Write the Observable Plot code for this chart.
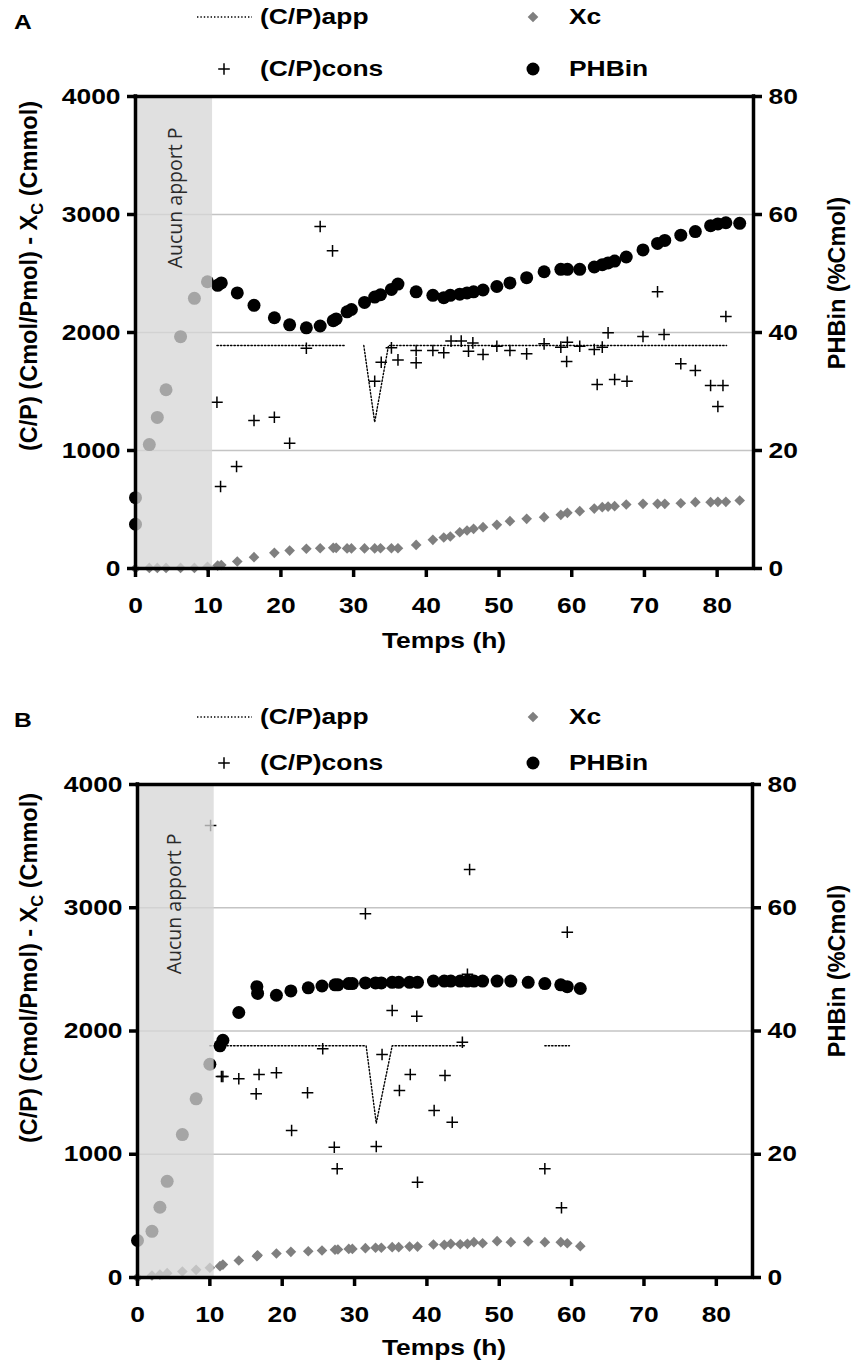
<!DOCTYPE html>
<html><head><meta charset="utf-8">
<script src="https://cdn.jsdelivr.net/npm/d3@7"></script>
<script src="https://cdn.jsdelivr.net/npm/@observablehq/plot@0.6"></script>
<style>
body{margin:0;background:#fff;}
#root{position:relative;width:863px;height:1365px;overflow:hidden;font-family:"Liberation Sans",Arial,sans-serif;font-weight:bold;color:#000;}
.abs{position:absolute;white-space:nowrap;line-height:1;}
svg.plot{position:absolute;left:0;}
</style></head><body><div id="root"></div>
<script>
// ---- shared scales / labels ----
const xTicks = [0,10,20,30,40,50,60,70,80];
const yTicks = [0,1000,2000,3000,4000];
const gridValues = [1000,2000,3000];
const xDomain = [0,85];
const yDomain = [0,4000];
const phbDomain = [0,80];
const shadeRange = [0,10.6];
const shadeLabel = "Aucun apport P";
const legendLabels = ["(C/P)app","Xc","(C/P)cons","PHBin"];
const xTitle = "Temps (h)";
const yTitle = "(C/P) (Cmol/Pmol) - X<sub style='font-size:0.7em'>C</sub> (Cmmol)";
const y2Title = "PHBin (%Cmol)";

// ---- Panel A ----
const appTimeA  = [11.2, 28.9, 30.2, 31.4, 32.9, 34.8, 81.3];
const appValA   = [1890, 1890, NaN, 1890, 1240, 1890, 1890];
const consTimeA = [11.2,11.7,13.9,16.3,19.1,21.2,23.5,25.4,27.1,32.9,33.8,35.2,36.1,38.6,38.6,40.9,42.4,43.4,44.8,45.8,46.4,47.8,49.7,51.5,53.8,56.2,58.5,59.3,59.4,61.1,63.1,63.5,64.2,65.0,65.9,67.6,69.8,71.8,72.7,75.0,77.0,79.1,80.1,80.8,81.2];
const consValA  = [1409,695,864,1254,1282,1062,1867,2898,2692,1587,1748,1870,1768,1743,1847,1847,1828,1927,1927,1841,1912,1814,1884,1847,1819,1904,1876,1754,1918,1884,1856,1559,1876,1997,1602,1587,1966,2345,1983,1735,1678,1551,1373,1551,2136];
const xcTimeA   = [0,1.9,3.0,4.2,6.2,8.1,9.9,11.3,11.8,14.0,16.3,19.1,21.2,23.5,25.4,27.2,27.6,29.1,29.7,31.5,32.9,33.7,35.2,36.1,38.6,40.9,42.4,43.3,44.6,45.6,46.5,47.8,49.7,51.5,53.8,56.2,58.5,59.4,61.1,63.1,64.2,65.0,65.9,67.5,69.8,71.8,72.8,75.0,77.0,79.1,80.1,81.2,83.1];
const xcValA    = [0,5,5,5,5,5,15,25,30,59,96,133,152,167,172,175,175,170,170,170,170,172,172,172,200,243,263,271,307,322,336,350,370,401,421,435,455,472,486,508,520,525,528,542,548,548,548,553,562,562,565,565,576];
const phbTimeA  = [0,0,1.9,3.0,4.2,6.2,8.1,9.9,11.3,11.8,14.0,16.3,19.1,21.2,23.5,25.4,27.2,27.6,29.1,29.7,31.5,32.9,33.7,35.2,36.1,38.6,40.9,42.4,43.3,44.6,45.6,46.5,47.8,49.7,51.5,53.8,56.2,58.5,59.4,61.1,63.1,64.2,65.0,65.9,67.5,69.8,71.8,72.8,75.0,77.0,79.1,80.1,81.2,83.1];
const phbValA   = [12.0,7.5,21.0,25.6,30.3,39.3,45.8,48.6,48.0,48.4,46.7,44.6,42.5,41.3,40.8,41.1,42.0,42.3,43.5,43.9,45.1,46.0,46.4,47.3,48.2,46.9,46.3,45.9,46.3,46.5,46.7,46.9,47.2,47.8,48.4,49.3,50.3,50.7,50.7,50.7,51.1,51.5,51.8,52.1,52.8,54.0,55.1,55.6,56.5,57.1,58.1,58.4,58.6,58.5];

// ---- Panel B ----
const appTimeB  = [10.0, 31.6, 33.0, 35.2, 45.3, 50.0, 56.3, 59.7];
const appValB   = [1880, 1880, 1252, 1880, 1880, NaN, 1880, 1880];
const consTimeB = [10.1,11.6,11.8,14.0,16.4,16.8,19.2,21.3,23.5,25.6,27.2,27.6,31.5,33.0,33.8,35.2,36.2,37.7,38.6,38.7,41.0,42.5,43.5,44.9,45.6,45.9,56.3,58.6,59.4];
const consValB  = [3667,1631,1631,1612,1490,1647,1661,1193,1499,1856,1057,882,2951,1063,1809,2166,1517,1647,2120,773,1355,1639,1260,1909,2460,3310,882,566,2802];
const xcTimeB   = [0,2.0,3.1,4.1,6.2,8.1,10.0,11.4,11.8,14.0,16.5,16.6,19.2,21.2,23.6,25.5,27.3,27.7,29.2,29.7,31.5,32.9,33.7,35.2,36.1,37.6,38.7,40.9,42.4,43.3,44.6,45.6,46.5,47.7,49.7,51.6,54.0,56.3,58.5,59.4,61.2];
const xcValB    = [0,16,24,35,49,62,79,92,105,138,173,180,195,208,213,219,225,227,232,232,238,241,241,246,246,251,251,268,265,273,270,273,287,278,295,287,292,287,287,278,254];
const phbTimeB  = xcTimeB;
const phbValB   = [6.0,7.5,11.4,15.6,23.2,29.0,34.6,37.6,38.5,43.0,47.2,46.1,45.8,46.5,47.0,47.3,47.5,47.5,47.7,47.7,47.8,47.8,47.8,47.9,47.9,47.9,47.9,48.1,48.1,48.1,48.1,48.1,48.1,48.1,48.1,48.1,47.9,47.7,47.5,47.2,46.9];

const RATIO = yDomain[1] / phbDomain[1];
const FONT = "'Liberation Sans', Arial, sans-serif";
const SX = 1.2; // horizontal stretch of the original figure's text

const plusSymbol = {
  draw(context, size) {
    const r = Math.sqrt(size / Math.PI);
    context.moveTo(-r, 0); context.lineTo(r, 0);
    context.moveTo(0, -r); context.lineTo(0, r);
  }
};

const zip = (ts, vs) => ts.map((t, i) => ({t, v: vs[i]}));

const panels = [
  {letter:"A", top:0, height:680, mt:96, mb:112, ml:135, mr:110, labelX:5.6, labelDy:31,
   app:zip(appTimeA,appValA), cons:zip(consTimeA,consValA), xc:zip(xcTimeA,xcValA), phb:zip(phbTimeA,phbValA),
   letterY:22, row1:17, row2:69, yTitleY:276, y2TitleY:283, xTitleY:641},
  {letter:"B", top:680, height:685, mt:104, mb:88, ml:137, mr:111, labelX:5.1, labelDy:49,
   app:zip(appTimeB,appValB), cons:zip(consTimeB,consValB), xc:zip(xcTimeB,xcValB), phb:zip(phbTimeB,phbValB),
   letterY:720, row1:717, row2:763, yTitleY:968, y2TitleY:971, xTitleY:1348}
];

const root = document.getElementById("root");

function addText(html, x, y, size, transform, origin) {
  const el = document.createElement("div");
  el.className = "abs";
  el.innerHTML = html;
  el.style.left = x + "px";
  el.style.top = y + "px";
  el.style.fontSize = size + "px";
  el.style.transform = transform;
  el.style.transformOrigin = origin || "center center";
  root.appendChild(el);
  return el;
}

for (const p of panels) {
  const svg = Plot.plot({
    width: 863, height: p.height,
    marginTop: p.mt, marginBottom: p.mb, marginLeft: p.ml, marginRight: p.mr,
    x: {domain: xDomain},
    y: {domain: yDomain},
    style: {fontFamily: FONT, fontSize: "22px", fontWeight: "bold", color: "#000", background: "transparent", overflow: "visible"},
    marks: [
      Plot.ruleY(gridValues, {stroke: "#c4c4c4", strokeWidth: 1.5}),
      Plot.line(p.app, {x: "t", y: "v", stroke: "#000", strokeWidth: 1.4, strokeDasharray: "1.4,2"}),
      Plot.dot(p.cons, {x: "t", y: "v", symbol: plusSymbol, r: 5.8, stroke: "#000", strokeWidth: 1.5, fill: "none"}),
      Plot.dot(p.xc, {x: "t", y: "v", symbol: "diamond2", r: 4.8, fill: "#7f7f7f", stroke: "none"}),
      Plot.dot(p.phb, {x: "t", y: d => d.v * RATIO, r: 6.5, fill: "#000", stroke: "none"}),
      Plot.rect([shadeRange], {x1: d => d[0], x2: d => d[1], y1: () => yDomain[0], y2: () => yDomain[1], fill: "rgb(215,215,215)", fillOpacity: 0.77}),
      Plot.text([shadeLabel], {x: () => p.labelX, y: () => yDomain[1], text: d => d, rotate: -90, textAnchor: "end", lineAnchor: "middle", dy: p.labelDy, fontFamily: "'Open Sans', sans-serif", fontWeight: "normal", fontSize: 19.5, fill: "#2a2a2a"}),
      Plot.axisX({ticks: xTicks, tickSize: 9, tickPadding: 20, strokeWidth: 3.5, label: null, tickFormat: d => String(d)}),
      Plot.axisY({anchor: "left", ticks: yTicks, tickSize: 8, tickPadding: 7, strokeWidth: 3.5, label: null, tickFormat: d => String(d)}),
      Plot.axisY({anchor: "right", ticks: yTicks, tickSize: 8, tickPadding: 7, strokeWidth: 3.5, label: null, tickFormat: d => String(d / RATIO)}),
      Plot.ruleY(yDomain, {stroke: "#000", strokeWidth: 3.5, strokeLinecap: "square"}),
      Plot.ruleX(xDomain, {stroke: "#000", strokeWidth: 3.5, strokeLinecap: "square"})
    ]
  });
  svg.classList.add("plot");
  svg.style.top = p.top + "px";
  root.appendChild(svg);
  // stretch horizontal tick labels like the original figure
  d3.select(svg).selectAll("g[aria-label$='tick label'] text").each(function() {
    const t = this.getAttribute("transform") || "";
    this.setAttribute("transform", t + ` scale(${SX},1)`);
  });

  // panel letter
  addText(p.letter, 14, p.letterY, 20.5, `translateY(-50%) scaleX(${SX})`, "left center");
  // legend text
  addText(legendLabels[0], 260, p.row1, 22, `translateY(-50%) scaleX(${SX})`, "left center");
  addText(legendLabels[1], 569, p.row1, 22, `translateY(-50%) scaleX(${SX})`, "left center");
  addText(legendLabels[2], 260, p.row2, 22, `translateY(-50%) scaleX(${SX})`, "left center");
  addText(legendLabels[3], 569, p.row2, 22, `translateY(-50%) scaleX(${SX})`, "left center");
  // axis titles
  addText(xTitle, 444, p.xTitleY, 22, `translate(-50%,-50%) scaleX(${SX})`);
  addText(yTitle, 32, p.yTitleY, 23.5, "translate(-50%,-50%) rotate(-90deg)");
  addText(y2Title, 838, p.y2TitleY, 23.5, "translate(-50%,-50%) rotate(-90deg)");

  // legend symbols
  const off = 20;
  const ls = d3.select(root).append("svg")
    .attr("width", 863).attr("height", p.row2 - p.row1 + 2 * off)
    .style("position", "absolute").style("left", "0px").style("top", (p.row1 - off) + "px");
  const r1 = off, r2 = p.row2 - p.row1 + off;
  ls.append("line").attr("x1", 197).attr("x2", 252).attr("y1", r1).attr("y2", r1)
    .attr("stroke", "#000").attr("stroke-width", 1.4).attr("stroke-dasharray", "1.4,2");
  ls.append("path").attr("transform", `translate(224,${r2})`).attr("d", "M-5.8,0H5.8M0,-5.8V5.8")
    .attr("stroke", "#000").attr("stroke-width", 1.5);
  ls.append("path").attr("transform", `translate(533,${r1})`).attr("d", d3.symbol(d3.symbolDiamond2, Math.PI * 4.8 * 4.8)())
    .attr("fill", "#7f7f7f");
  ls.append("circle").attr("cx", 533).attr("cy", r2).attr("r", 6.5).attr("fill", "#000");
}
</script></body></html>
